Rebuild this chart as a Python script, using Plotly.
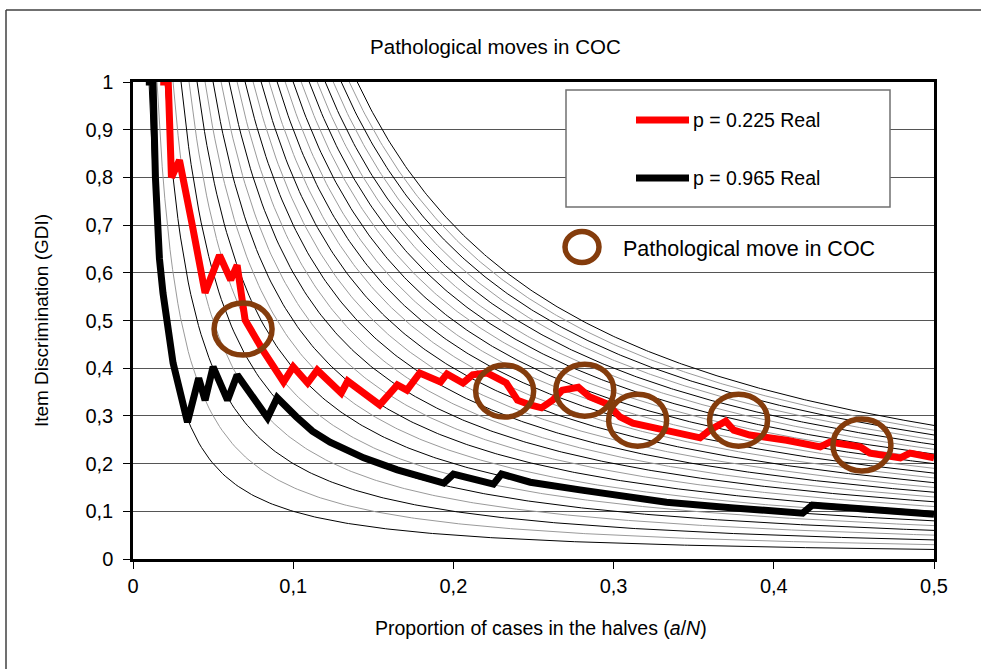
import numpy as np
import plotly.graph_objects as go

# ---- data ----
red_x = [0.017, 0.022, 0.024, 0.029, 0.037, 0.045, 0.054, 0.061, 0.065, 0.070, 0.081, 0.094,
         0.100, 0.109, 0.115, 0.130, 0.134, 0.154, 0.165, 0.171, 0.179, 0.192, 0.196, 0.206,
         0.212, 0.221, 0.233, 0.240, 0.248, 0.255, 0.262, 0.268, 0.278, 0.285, 0.296, 0.304,
         0.312, 0.333, 0.354, 0.360, 0.370, 0.375, 0.385, 0.408, 0.429, 0.435, 0.454, 0.460,
         0.479, 0.485, 0.500]
red_y = [1.0, 1.0, 0.80, 0.836, 0.70, 0.558, 0.637, 0.585, 0.616, 0.501, 0.438, 0.371,
         0.403, 0.369, 0.396, 0.348, 0.373, 0.323, 0.365, 0.354, 0.390, 0.371, 0.388, 0.369,
         0.386, 0.390, 0.369, 0.333, 0.323, 0.317, 0.333, 0.354, 0.360, 0.340, 0.325, 0.298,
         0.285, 0.270, 0.254, 0.270, 0.289, 0.270, 0.260, 0.249, 0.235, 0.245, 0.235, 0.222,
         0.212, 0.222, 0.212]

black_x = [0.008, 0.0125, 0.014, 0.0165, 0.0187, 0.025, 0.034, 0.041, 0.045, 0.050, 0.059,
           0.065, 0.084, 0.090, 0.102, 0.112, 0.123, 0.135, 0.144, 0.165, 0.194, 0.200, 0.225,
           0.230, 0.248, 0.279, 0.310, 0.333, 0.375, 0.418, 0.424, 0.458, 0.500]
black_y = [1.0, 1.0, 0.80, 0.63, 0.558, 0.411, 0.287, 0.379, 0.333, 0.403, 0.333,
           0.386, 0.296, 0.338, 0.298, 0.268, 0.245, 0.224, 0.212, 0.187, 0.159, 0.178, 0.157,
           0.178, 0.161, 0.145, 0.130, 0.119, 0.107, 0.096, 0.113, 0.103, 0.094]

# pathological moves (circle centres)
circle_x = [0.0687, 0.232, 0.282, 0.315, 0.378, 0.455]
circle_y = [0.482, 0.352, 0.354, 0.291, 0.291, 0.239]

# constants of the background iso-curves  GDI = k / (a/N)
iso_k = [0.010, 0.015, 0.020, 0.025, 0.030, 0.035, 0.040, 0.045, 0.050, 0.055, 0.060,
         0.065, 0.070, 0.075, 0.080, 0.085, 0.090, 0.095, 0.100, 0.105, 0.110, 0.115,
         0.120, 0.125, 0.130, 0.135, 0.140]

x_ticks = [0, 0.1, 0.2, 0.3, 0.4, 0.5]
y_ticks = [0, 0.1, 0.2, 0.3, 0.4, 0.5, 0.6, 0.7, 0.8, 0.9, 1.0]

names = ["p = 0.225 Real", "p = 0.965 Real"]
circle_label = "Pathological move in COC"

FONT = "Liberation Sans, Arial, sans-serif"
BROWN = "#843C0C"

fig = go.Figure()

for i, k in enumerate(iso_k):
    xs = np.linspace(k, 0.5, 300)
    fig.add_trace(go.Scatter(
        x=xs, y=k / xs, mode="lines",
        line=dict(color="#000000" if i % 2 == 0 else "#9a9a9a", width=1),
        hoverinfo="skip", showlegend=False))

fig.add_trace(go.Scatter(x=red_x, y=red_y, mode="lines", name=names[0],
                         line=dict(color="#ff0000", width=7), showlegend=False))
fig.add_trace(go.Scatter(x=black_x, y=black_y, mode="lines", name=names[1],
                         line=dict(color="#000000", width=7), showlegend=False))

shapes = []
for cx, cy in zip(circle_x, circle_y):
    shapes.append(dict(type="circle", xref="x", yref="y", xsizemode="pixel", ysizemode="pixel",
                       xanchor=cx, yanchor=cy, x0=-29, x1=29, y0=-26, y1=26,
                       line=dict(color=BROWN, width=5.5)))

W, H = 981, 669
ML, MR, MT, MB = 133, 47, 82, 110
pw, ph = W - ML - MR, H - MT - MB

def px(xp):
    return (xp - ML) / pw

def py(yp):
    return (H - MB - yp) / ph

# outer frame (top and left edges visible)
shapes.append(dict(type="line", xref="paper", yref="paper", x0=px(6), x1=px(990),
                   y0=py(10), y1=py(10), line=dict(color="#404040", width=1.5)))
shapes.append(dict(type="line", xref="paper", yref="paper", x0=px(6), x1=px(6),
                   y0=py(10), y1=py(680), line=dict(color="#404040", width=1.5)))

# custom legend box
shapes.append(dict(type="rect", xref="paper", yref="paper", x0=px(566), x1=px(890),
                   y0=py(207), y1=py(90), fillcolor="white",
                   line=dict(color="#707070", width=1.5), layer="above"))
legend_cols = ["#ff0000", "#000000"]
legend_rows = [120, 178]
annotations = []
for col, yy, nm in zip(legend_cols, legend_rows, names):
    shapes.append(dict(type="line", xref="paper", yref="paper", x0=px(636), x1=px(689),
                       y0=py(yy), y1=py(yy), line=dict(color=col, width=7), layer="above"))
    annotations.append(dict(xref="paper", yref="paper", x=px(691), y=py(yy), text=nm,
                            showarrow=False, xanchor="left", yanchor="middle",
                            font=dict(family=FONT, size=19.5, color="black")))

shapes.append(dict(type="circle", xref="paper", yref="paper", xsizemode="pixel",
                   ysizemode="pixel", xanchor=px(582), yanchor=py(247),
                   x0=-17, x1=17, y0=-15.5, y1=15.5, line=dict(color=BROWN, width=5.5)))
annotations.append(dict(xref="paper", yref="paper", x=px(621), y=py(249), text=circle_label,
                        showarrow=False, xanchor="left", yanchor="middle",
                        font=dict(family=FONT, size=21.5, color="black")))

# x-axis title (placed like the reference, slightly right of the plot centre)
annotations.append(dict(xref="paper", yref="paper", x=px(541), y=py(628),
                        text="Proportion of cases in the halves (<i>a</i>/<i>N</i>)",
                        showarrow=False, xanchor="center", yanchor="middle",
                        font=dict(family=FONT, size=19.5, color="black")))

fig.update_layout(
    width=W, height=H,
    margin=dict(l=ML, r=MR, t=MT, b=MB),
    paper_bgcolor="white", plot_bgcolor="white",
    separators=",.",
    font=dict(family=FONT, size=20, color="black"),
    title=dict(text="Pathological moves in COC", x=0.505, xref="container", xanchor="center",
               y=1 - 47 / H, yref="container", yanchor="middle",
               font=dict(family=FONT, size=20.5, color="black")),
    shapes=shapes, annotations=annotations,
    showlegend=False,
)

fig.update_xaxes(range=[0, 0.5], tickvals=x_ticks, showgrid=False, zeroline=False,
                 showline=True, linecolor="black", linewidth=2.5, mirror=True,
                 ticks="outside", ticklen=7, tickcolor="black", tickwidth=1,
                 tickfont=dict(family=FONT, size=20))
fig.update_yaxes(range=[0, 1], tickvals=y_ticks, showgrid=True, gridcolor="#555555",
                 gridwidth=1.3, zeroline=False,
                 showline=True, linecolor="black", linewidth=2.5, mirror=True,
                 ticks="outside", ticklen=7, tickcolor="black", tickwidth=1,
                 ticklabelstandoff=6,
                 tickfont=dict(family=FONT, size=20),
                 title=dict(text="Item Discrimination (GDI)",
                            font=dict(family=FONT, size=19), standoff=32))

fig.write_html("out.html", config={"displayModeBar": False},
               post_script="document.body.style.margin='0px';")
